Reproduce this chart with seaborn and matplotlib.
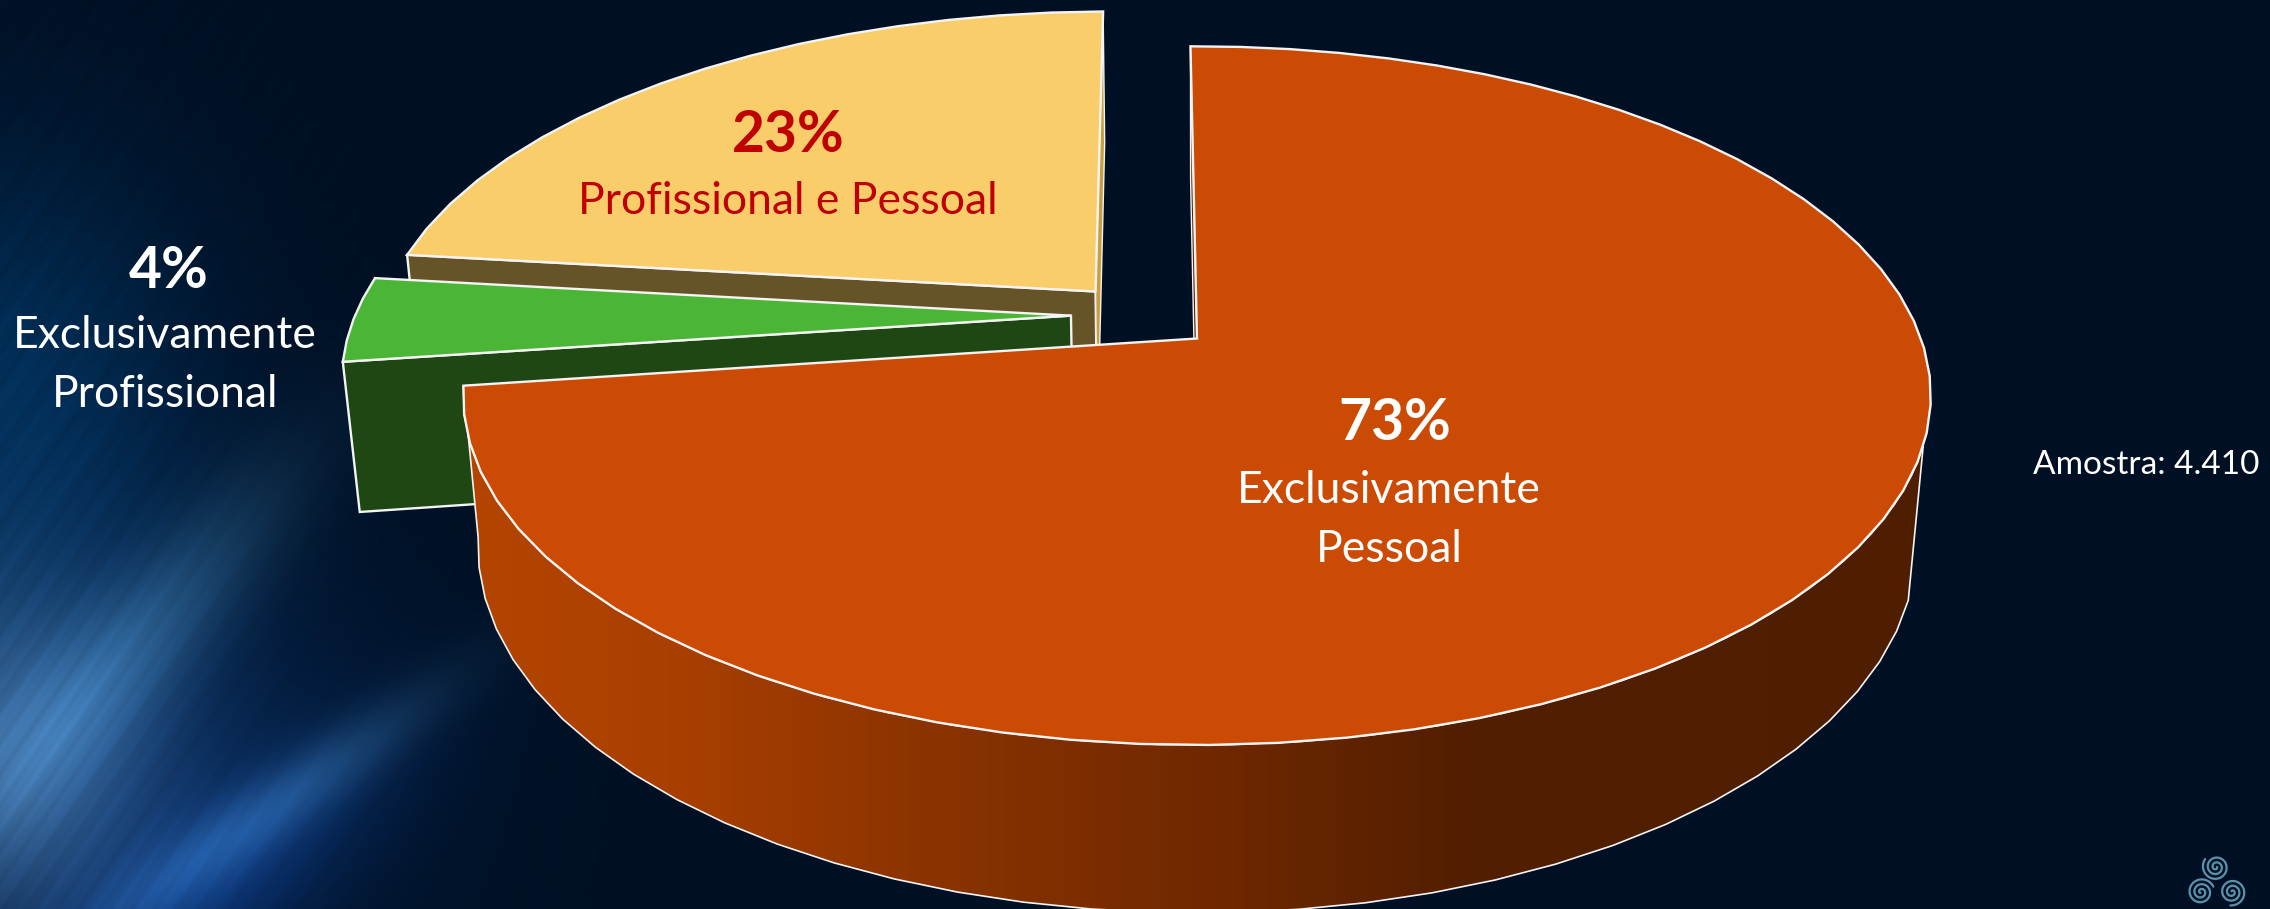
import numpy as np
import matplotlib
matplotlib.use("Agg")
import matplotlib.pyplot as plt
from matplotlib.colors import LinearSegmentedColormap
from matplotlib.patches import Polygon
import seaborn as sns

# chart data
categories = ["Profissional e Pessoal", "Exclusivamente\nProfissional", "Exclusivamente\nPessoal"]
percents = [23, 4, 73]
percent_labels = ["23%", "4%", "73%"]
sample_note = "Amostra: 4.410"

top_colors = ["#f9cd6a", "#4bb535", "#cb4a04"]
cut_colors = ["#665328", "#1f4714", "#5a2300"]

sns.set_theme(style="dark")
plt.rcParams["font.family"] = ["Lato", "DejaVu Sans"]

W, H = 2270, 909
fig = plt.figure(figsize=(W / 100, H / 100), dpi=100)
ax = fig.add_axes([0, 0, 1, 1])
ax.axis("off")

# background, dark navy with a blue glow on the left
yy, xx = np.mgrid[0:H, 0:W]
rgb = np.zeros((H, W, 3))
rgb[:] = [0, 16, 36]


def band(px, py, nx, ny, wide, length, color):
    d = (xx - px) * nx + (yy - py) * ny
    s = (xx - px) * -ny + (yy - py) * nx
    return (np.exp(-(d / wide) ** 2) * np.exp(-(s / length) ** 2))[..., None] * np.array(color)


left_fade = np.exp(-(xx / 150.0) ** 2)
rgb += left_fade[..., None] * np.exp(-((yy - 755) / 170.0) ** 2)[..., None] * np.array([48, 58, 62])
rgb += np.exp(-(xx / 190.0) ** 2)[..., None] * np.exp(-((yy - 400) / 240.0) ** 2)[..., None] * np.array([2, 30, 50])
rgb += (np.exp(-((xx - 90) / 260.0) ** 2) * np.exp(-((yy - 780) / 240.0) ** 2))[..., None] * np.array([6, 24, 52])
rgb += band(130, 650, 0.75, 0.66, 55, 230, [26, 42, 48])
rgb += band(276, 805, 0.58, 0.82, 32, 190, [24, 42, 52])
rgb += band(190, 895, 0.58, 0.82, 70, 230, [6, 20, 48])
phase = xx * 0.82 + yy * 0.57
streak = 0.45 * np.sin(phase * 0.31) + 0.3 * np.sin(phase * 0.137 + 1) + 0.25 * np.sin(phase * 0.71)
rgb *= 1 + 0.07 * streak[..., None] * np.exp(-(xx / 330.0) ** 2)[..., None]
ax.imshow(np.clip(rgb, 0, 255).astype(np.uint8), extent=[0, W, H, 0], aspect="auto", zorder=0)

# perspective of the tilted disc
CX, CY, RX, RY, HT, KY, KZ = 1197, 338.5, 724, 340, 152, 0.1636, 0.02
offsets = {0: (-0.1434, 0.1415), 1: (-0.176, 0.068), 2: (0.0, 0.0)}


def project(x, y, down=False):
    z = 1.0 if down else 0.0
    w = 1 + KY * y + KZ * z
    return np.column_stack([CX + RX * x / w, CY - (RY * y - HT * z) / w])


def rim(i, t0, t1, down=False):
    t = np.radians(np.linspace(t0, t1, max(int(abs(t1 - t0) / 4.5), 5)))
    ox, oy = offsets[i]
    return project(ox + np.cos(t), oy + np.sin(t), down)


def apex(i, down=False):
    ox, oy = offsets[i]
    return project(np.array([ox]), np.array([oy]), down)


def face(pts, color, z, lw=1.7):
    ax.add_patch(Polygon(pts, closed=True, fc=color, ec="#f4f4f4", lw=lw, joinstyle="miter", zorder=z))


start_angle = 90.6
sweeps = np.array(percents) * 3.6
ends = start_angle + np.cumsum(sweeps)
starts = ends - sweeps

# yellow slice
a0, a1 = starts[0], ends[0]
face(np.vstack([apex(0), rim(0, a1, a1), rim(0, a1, a1, True), apex(0, True)]), cut_colors[0], 2)
face(np.vstack([apex(0), rim(0, a0, a0), rim(0, a0, a0, True), apex(0, True)]), "#c9a040", 2, 1.0)
face(np.vstack([apex(0), rim(0, a0, a1)]), top_colors[0], 3)

# green slice
a0, a1 = starts[1], ends[1]
face(np.vstack([apex(1), rim(1, a1, a1), rim(1, a1, a1, True), apex(1, True)]), cut_colors[1], 4)
face(np.vstack([apex(1), rim(1, a0, a1)]), top_colors[1], 5)

# orange slice, the wall carries a left to right shading
a0, a1 = starts[2], ends[2]
face(np.vstack([apex(2), rim(2, a1, a1), rim(2, a1, a1, True), apex(2, True)]), cut_colors[2], 6, 1.0)
wall_end = 342.5
wall = np.vstack([rim(2, a0, wall_end), rim(2, wall_end, a0, True)])
shade = LinearSegmentedColormap.from_list(
    "wall",
    [(0.0, "#b54500"), (0.15, "#a83f00"), (0.29, "#8f3500"), (0.50, "#722900"), (0.69, "#521e00"), (1.0, "#4f1e00")],
)
x_grad = np.linspace(0, 1, 512).reshape(1, -1)
x0, x1 = wall[:, 0].min(), wall[:, 0].max()
im = ax.imshow(x_grad, cmap=shade, extent=[x0, x1, H + 60, 300], aspect="auto", zorder=7)
clip = Polygon(wall, closed=True, transform=ax.transData)
im.set_clip_path(clip)
ax.add_patch(Polygon(wall, closed=True, fill=False, ec="#f4f4f4", lw=1.2, zorder=8))
face(np.vstack([apex(2), rim(2, a0, a1)]), top_colors[2], 9)

# labels
ax.text(788, 136, percent_labels[0], color="#c00000", fontsize=41, fontweight="bold", ha="center", va="center", zorder=10)
ax.text(788, 202, categories[0], color="#c00000", fontsize=32, ha="center", va="center", zorder=10)
ax.text(169, 272, percent_labels[1], color="white", fontsize=41, fontweight="bold", ha="center", va="center", zorder=10)
ax.text(165, 365, categories[1], color="white", fontsize=32, ha="center", va="center", linespacing=1.55, zorder=10)
ax.text(1395, 424, percent_labels[2], color="white", fontsize=41, fontweight="bold", ha="center", va="center", zorder=10)
ax.text(1389, 520, categories[2], color="white", fontsize=32, ha="center", va="center", linespacing=1.55, zorder=10)
ax.text(2033, 465, sample_note, color="white", fontsize=24, ha="left", va="center", zorder=10)

# small triskelion mark
for mx, my, turn in [(2216, 867, 0.0), (2201, 892, 2.1), (2232, 892, 4.2)]:
    t = np.linspace(0, 5.2 * np.pi, 200)
    r = 1.0 + 12.5 * t / t.max()
    ax.plot(mx + r * np.cos(t + turn), my + r * np.sin(t + turn), color="#5b93ac", lw=1.6, zorder=10)

ax.set_xlim(0, W)
ax.set_ylim(H, 0)
fig.savefig("out.png", dpi=100)
